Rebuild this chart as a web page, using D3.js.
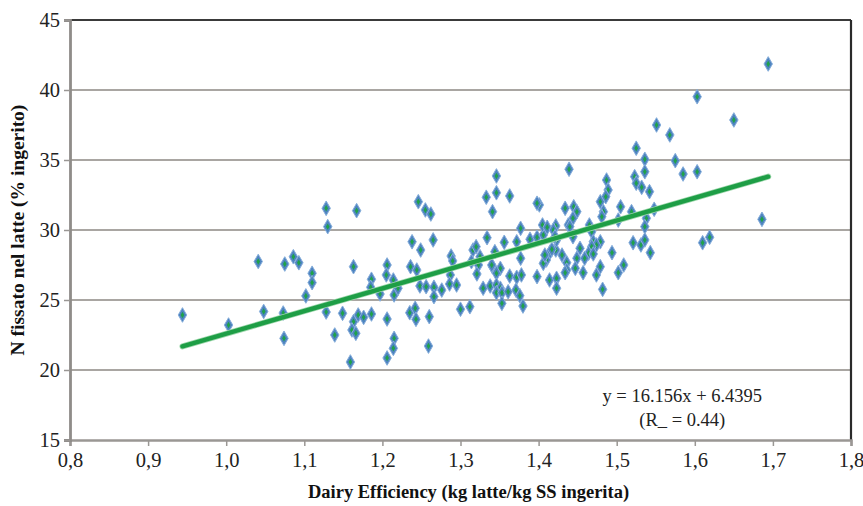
<!DOCTYPE html>
<html>
<head>
<meta charset="utf-8">
<script src="https://cdn.jsdelivr.net/npm/d3@7"></script>
<style>
  html, body { margin: 0; padding: 0; background: #fff; }
  svg { display: block; }
  .tick text { font-family: "Liberation Serif", "DejaVu Serif", serif; font-size: 20.5px; fill: #222; }
  .axis-title { font-family: "Liberation Serif", "DejaVu Serif", serif; font-weight: bold; fill: #111; }
  .eq { font-family: "Liberation Serif", "DejaVu Serif", serif; font-size: 18.5px; fill: #222; }
</style>
</head>
<body>
<svg id="chart" width="863" height="506"></svg>
<script>
// Dairy efficiency (kg milk / kg DM intake) for each cow record
const efficiency = [
  0.944, 1.003, 1.041, 1.048, 1.073, 1.074, 1.075, 1.086, 1.093, 1.110,
  1.110, 1.102, 1.128, 1.130, 1.128, 1.139, 1.149, 1.163, 1.161, 1.166,
  1.169, 1.176, 1.186, 1.206, 1.215, 1.167, 1.163, 1.186, 1.185, 1.197,
  1.206, 1.205, 1.214, 1.215, 1.220, 1.235, 1.242, 1.243, 1.260, 1.238,
  1.249, 1.265, 1.236, 1.244, 1.248, 1.256, 1.266, 1.266, 1.276, 1.246,
  1.255, 1.262, 1.288, 1.290, 1.287, 1.286, 1.295, 1.159, 1.206, 1.214,
  1.259, 1.346, 1.346, 1.333, 1.363, 1.341, 1.401, 1.398, 1.377, 1.334,
  1.356, 1.372, 1.389, 1.398, 1.406, 1.405, 1.411, 1.422, 1.316, 1.320,
  1.325, 1.323, 1.314, 1.344, 1.321, 1.341, 1.351, 1.346, 1.340, 1.377,
  1.363, 1.372, 1.378, 1.329, 1.338, 1.346, 1.351, 1.346, 1.353, 1.361,
  1.371, 1.376, 1.380, 1.353, 1.300, 1.312, 1.398, 1.414, 1.423, 1.423,
  1.410, 1.415, 1.422, 1.406, 1.408, 1.423, 1.525, 1.536, 1.536, 1.439,
  1.487, 1.523, 1.525, 1.532, 1.542, 1.489, 1.486, 1.479, 1.434, 1.445,
  1.449, 1.444, 1.438, 1.440, 1.419, 1.483, 1.481, 1.505, 1.502, 1.519,
  1.538, 1.536, 1.465, 1.468, 1.421, 1.444, 1.470, 1.479, 1.474, 1.468,
  1.453, 1.464, 1.417, 1.430, 1.449, 1.459, 1.470, 1.494, 1.521, 1.531,
  1.536, 1.543, 1.436, 1.436, 1.447, 1.457, 1.434, 1.479, 1.474, 1.509,
  1.502, 1.482, 1.694, 1.603, 1.650, 1.551, 1.568, 1.575, 1.585, 1.603,
  1.548, 1.610, 1.619, 1.686
];

// N fixed in milk (% of N ingested) for the same records
const nFixed = [
  23.93, 23.21, 27.75, 24.18, 24.07, 22.26, 27.57, 28.09, 27.66, 26.91,
  26.24, 25.29, 31.55, 30.24, 24.14, 22.50, 24.05, 23.45, 22.86, 22.62,
  23.93, 23.76, 24.00, 23.64, 22.26, 31.38, 27.38, 26.48, 25.91, 25.43,
  27.50, 26.79, 26.43, 25.36, 25.84, 24.09, 24.41, 23.62, 23.81, 29.16,
  28.57, 29.29, 27.38, 27.14, 26.00, 25.95, 25.91, 25.24, 25.71, 32.02,
  31.43, 31.14, 28.14, 27.79, 26.79, 26.14, 26.07, 20.57, 20.86, 21.55,
  21.71, 33.86, 32.66, 32.34, 32.43, 31.31, 31.79, 31.91, 30.12, 29.45,
  29.12, 29.16, 29.34, 29.48, 29.64, 30.36, 30.19, 30.29, 28.57, 28.81,
  28.09, 27.50, 27.74, 28.45, 26.86, 27.38, 27.26, 26.91, 27.50, 27.98,
  26.71, 26.62, 26.79, 25.84, 26.00, 26.07, 25.84, 25.52, 25.52, 25.59,
  25.71, 25.31, 24.57, 24.76, 24.34, 24.52, 26.67, 26.43, 26.55, 25.84,
  27.86, 28.45, 28.57, 27.62, 28.21, 29.29, 35.84, 35.05, 34.16, 34.34,
  33.57, 33.81, 33.34, 33.05, 32.74, 32.86, 32.38, 32.02, 31.55, 31.66,
  31.31, 30.84, 30.36, 30.24, 30.00, 31.31, 30.95, 31.66, 30.71, 31.31,
  30.84, 30.24, 30.36, 29.88, 29.52, 29.52, 29.16, 29.16, 28.93, 28.81,
  28.69, 28.34, 28.62, 28.21, 27.98, 27.98, 28.29, 28.38, 29.09, 28.93,
  29.29, 28.38, 27.66, 27.14, 27.26, 26.95, 26.95, 27.38, 26.79, 27.50,
  26.95, 25.76, 41.86, 39.52, 37.86, 37.50, 36.79, 34.95, 34.00, 34.16,
  31.48, 29.09, 29.48, 30.76
];

// Linear regression reported on the chart
const slope = 16.156;
const intercept = 6.4395;
const rValue = 0.44;

const xTicks = [0.8, 0.9, 1.0, 1.1, 1.2, 1.3, 1.4, 1.5, 1.6, 1.7, 1.8];
const yTicks = [15, 20, 25, 30, 35, 40, 45];

const svg = d3.select("#chart");
const W = 863, H = 506;
const margin = { top: 20, right: 12, bottom: 66, left: 70 };
const iw = W - margin.left - margin.right;
const ih = H - margin.top - margin.bottom;

const x = d3.scaleLinear().domain([0.8, 1.8]).range([0, iw]);
const y = d3.scaleLinear().domain([15, 45]).range([ih, 0]);

const g = svg.append("g").attr("transform", `translate(${margin.left},${margin.top})`);

// horizontal gridlines
g.append("g")
  .selectAll("line")
  .data(yTicks.filter(v => v > 15 && v < 45))
  .join("line")
  .attr("x1", 0).attr("x2", iw)
  .attr("y1", d => y(d)).attr("y2", d => y(d))
  .attr("stroke", "#a9a6a2").attr("stroke-width", 2.2);

// plot frame: dark top and right edges
g.append("line").attr("x1", 0).attr("x2", iw).attr("y1", 0).attr("y2", 0)
  .attr("stroke", "#3a3a3a").attr("stroke-width", 2);
g.append("line").attr("x1", iw).attr("x2", iw).attr("y1", 0).attr("y2", ih)
  .attr("stroke", "#2a2a2a").attr("stroke-width", 2.2);

const fmtComma = d => d3.format(".1f")(d).replace(".", ",");

// x axis
const xAxis = g.append("g")
  .attr("transform", `translate(0,${ih})`)
  .call(d3.axisBottom(x).tickValues(xTicks).tickFormat(fmtComma).tickSize(6).tickPadding(6));
xAxis.select(".domain").attr("stroke", "#9a9794").attr("stroke-width", 2.6);
xAxis.selectAll(".tick line").attr("stroke", "#9a9794").attr("stroke-width", 1.5);

// y axis
const yAxis = g.append("g")
  .call(d3.axisLeft(y).tickValues(yTicks).tickFormat(d3.format("d")).tickSize(6).tickPadding(4));
yAxis.select(".domain").attr("stroke", "#8f8c89").attr("stroke-width", 2.8);
yAxis.selectAll(".tick line").attr("stroke", "#9a9794").attr("stroke-width", 1.5);

// scatter markers: blue diamond with a green core
const points = efficiency.map((e, i) => ({ e, n: nFixed[i] }));
const outer = d3.symbol().type(d3.symbolDiamond).size(62);
const inner = d3.symbol().type(d3.symbolDiamond).size(12);
const mk = g.append("g").selectAll("g")
  .data(points)
  .join("g")
  .attr("transform", d => `translate(${x(d.e)},${y(d.n)})`);
mk.append("path").attr("d", outer)
  .attr("fill", "#4f84c0").attr("stroke", "#86aedb").attr("stroke-width", 1);
mk.append("path").attr("d", inner).attr("fill", "#1fa24a");

// regression line over the observed range
const [xmin, xmax] = d3.extent(efficiency);
const fit = [xmin, xmax].map(v => ({ e: v, n: slope * v + intercept }));
const fitLine = d3.line().x(d => x(d.e)).y(d => y(d.n));
g.append("path").datum(fit).attr("d", fitLine)
  .attr("stroke", "#9fd8ad").attr("stroke-width", 6).attr("stroke-linecap", "round").attr("fill", "none");
g.append("path").datum(fit).attr("d", fitLine)
  .attr("stroke", "#1e9e46").attr("stroke-width", 4.4).attr("stroke-linecap", "round").attr("fill", "none");

// equation label
g.append("text").attr("class", "eq")
  .attr("x", x(1.584)).attr("y", y(17.7))
  .attr("text-anchor", "middle")
  .text(`y = ${slope}x + ${intercept}`);
g.append("text").attr("class", "eq")
  .attr("x", x(1.584)).attr("y", y(16.0))
  .attr("text-anchor", "middle")
  .text(`(R_ = ${rValue})`);

// axis titles
svg.append("text").attr("class", "axis-title")
  .style("font-size", "18.5px")
  .attr("x", margin.left + iw / 2 + 8).attr("y", H - 8)
  .attr("text-anchor", "middle")
  .text("Dairy Efficiency (kg latte/kg SS ingerita)");
svg.append("text").attr("class", "axis-title")
  .style("font-size", "19.5px")
  .attr("transform", `translate(24,${margin.top + ih / 2}) rotate(-90)`)
  .attr("text-anchor", "middle")
  .text("N fissato nel latte (% ingerito)");
</script>
</body>
</html>
